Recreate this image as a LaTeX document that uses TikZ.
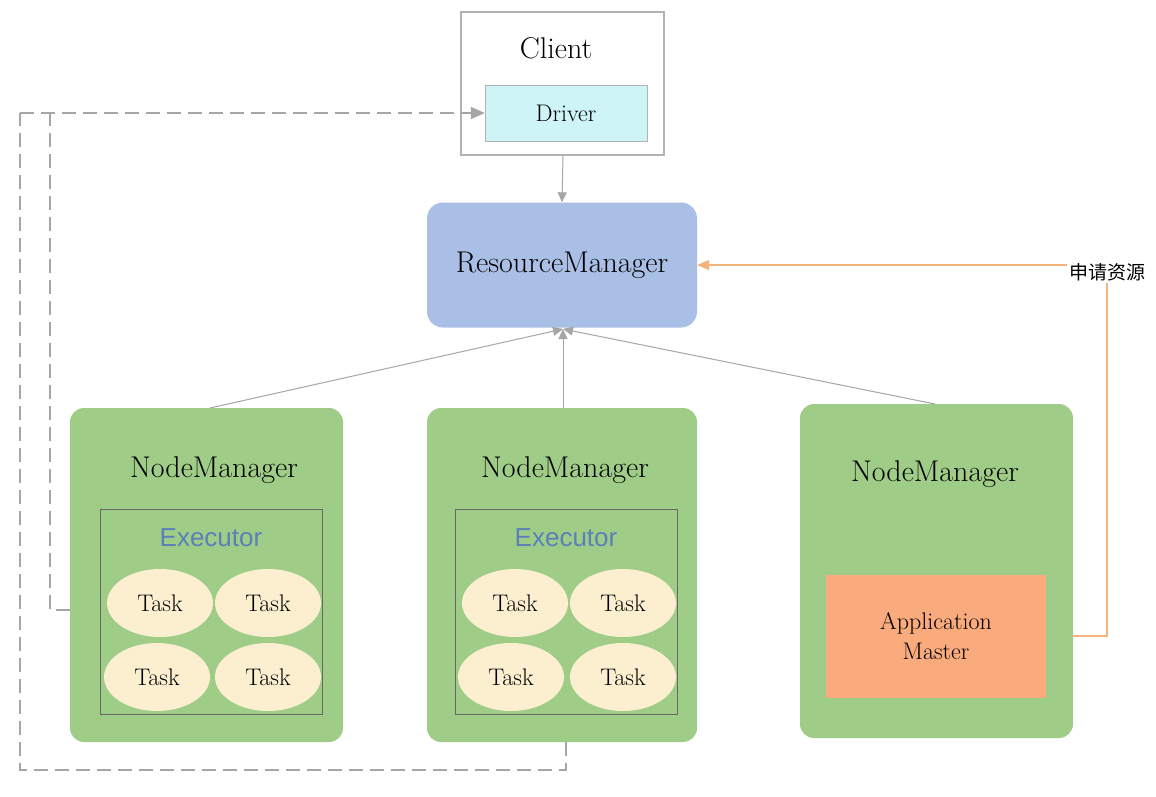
\documentclass[tikz,border=0pt]{standalone}
\usepackage{fontspec}
\newfontfamily\cjk{Noto Sans CJK SC}
\newfontfamily\sans{Liberation Sans}
\usetikzlibrary{arrows.meta,shapes.geometric}
\definecolor{nmg}{HTML}{9FCD88}
\definecolor{rmb}{HTML}{A9BFE6}
\definecolor{drv}{HTML}{CFF4F7}
\definecolor{tsk}{HTML}{FBEFD0}
\definecolor{amo}{HTML}{F9AB7D}
\definecolor{exb}{HTML}{5B7FB8}
\definecolor{org}{HTML}{F5B27A}
\begin{document}
\begin{tikzpicture}[x=1pt,y=-1pt,
 task/.style={ellipse,fill=tsk,minimum width=106pt,minimum height=68pt,font=\fontsize{24}{26}\selectfont},
 big/.style={font=\fontsize{30}{32}\selectfont},
 conn/.style={draw=gray!70,line width=1pt,-{Triangle[length=10pt,width=9pt]}},
 dline/.style={draw=gray!70,line width=1.6pt,dash pattern=on 14pt off 7pt}]
\useasboundingbox (0,0) rectangle (1156,796);
\fill[white] (0,0) rectangle (1156,796);
% client
\draw[gray!60,line width=1.2pt] (461,12) rectangle (664,155);
\node[big] (cl) at (556,48) {Client};
\node[draw=gray!60,fill=drv,minimum width=162pt,minimum height=56pt,font=\fontsize{24}{26}\selectfont] (drv) at (566,113) {Driver};
% RM
\node[fill=rmb,rounded corners=16pt,minimum width=270pt,minimum height=125pt,big] (rm) at (562,265) {ResourceManager};
\coordinate (clb) at (563,155);
\draw[conn] (clb) -- (rm.north);
% NMs
\fill[nmg,rounded corners=14pt] (70,408) rectangle (343,742);
\fill[nmg,rounded corners=14pt] (427,408) rectangle (697,742);
\fill[nmg,rounded corners=14pt] (800,404) rectangle (1073,738);
\node[big] (n1) at (214,470) {NodeManager};
\node[big] (n2) at (565,470) {NodeManager};
\node[big] (n3) at (935,474) {NodeManager};
\foreach \x/\c in {100/211,455/566}{
 \draw[gray!80!black,line width=1pt] (\x,509) rectangle (\x+222,714);
 \node[text=exb,font=\sans\fontsize{26}{28}\selectfont] at (\c,538) {Executor};
}
\node[task] (t1) at (160,603) {Task};
\node[task] (t2) at (268,603) {Task};
\node[task] (t3) at (157,677) {Task};
\node[task] (t4) at (268,677) {Task};
\node[task] (t5) at (515,603) {Task};
\node[task] (t6) at (623,603) {Task};
\node[task] (t7) at (511,677) {Task};
\node[task] (t8) at (623,677) {Task};
\node[fill=amo,minimum width=220pt,minimum height=123pt,align=center,font=\fontsize{24}{30}\selectfont] (am) at (936,636) {Application\\Master};
\coordinate (a1) at (210,408);
\coordinate (a2) at (563,408);
\coordinate (a3) at (935,404);
\coordinate (rb) at (563,329);
\draw[conn] (a1) -- (rb);
\draw[conn] (a2) -- (rb);
\draw[conn] (a3) -- (rb);
% request
\coordinate (amr) at (1073,636);
\draw[draw=org,line width=1.2pt,-{Triangle[length=12pt,width=10pt]}] (amr) -- (1107,636) -- (1107,265) -- (rm.east);
\node[fill=white,inner sep=2pt,font=\cjk\fontsize{19}{21}\selectfont] (sq) at (1107,272) {申请资源};
% dashed
\coordinate (d0) at (566,742);
\draw[dline] (d0) -- (566,770) -- (20,770) -- (20,113);
\coordinate (nl) at (70,610);
\draw[dline] (nl) -- (50,610) -- (50,113);
\draw[dline,-{Triangle[length=14pt,width=12pt]}] (20,113) -- (drv.west);
\end{tikzpicture}
\end{document}
